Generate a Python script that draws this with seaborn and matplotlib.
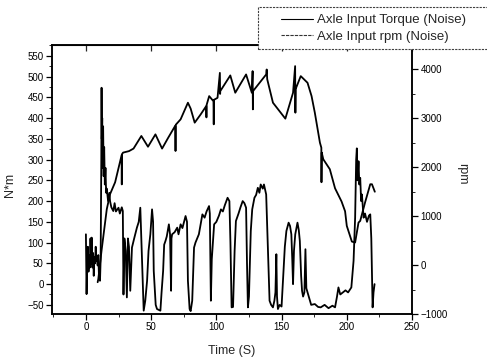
import matplotlib
matplotlib.use("Agg")
import matplotlib.pyplot as plt
import seaborn as sns
import pandas as pd
from matplotlib.lines import Line2D
from matplotlib.patches import Rectangle
from matplotlib.ticker import MultipleLocator

# ---- data ----
torque_t = [0, 0.5, 1, 1.5, 2, 2.5, 3, 3.5, 4, 4.4, 5, 5.5, 6, 6.5, 7, 7.5, 8, 8.5, 9, 9.5,
            10, 10.8, 11.3, 11.8, 12, 12.2, 12.5, 12.8, 13.2, 13.6, 14, 14.5, 15, 15.5, 16, 17,
            18, 18.5, 19.5, 21, 22, 23, 25, 26, 27.5, 28.3, 28.8, 29.5, 30.5, 31.4, 32.2, 33,
            34, 35.3, 37, 39.1, 40.5, 41.7, 43, 44.3, 45.5, 46.9, 48, 49.4, 50.7, 51.5, 52,
            53.5, 54.5, 57.1, 58, 59.2, 60, 61, 62, 63.6, 64.5, 65.3, 65.6, 66.1, 68, 70, 71,
            72.6, 74, 76.4, 77.5, 78.2, 79.5, 80.3, 81.5, 82.9, 84, 86.6, 89.3, 91, 92.5,
            94.4, 95, 95.8, 96.5, 98.3, 100, 102, 103.5, 105, 106.5, 108.6, 110, 110.8, 111.7,
            112.8, 114, 115, 117, 118.5, 120.2, 121.5, 122.8, 123.5, 124.2, 125, 126.4, 127.5,
            129.2, 130.5, 131.8, 133, 134, 135.6, 136.5, 138.2, 139.5, 140.8, 142, 143.4,
            144.5, 145.3, 146, 146.5, 147.2, 148.5, 150, 151.1, 152.5, 153.7, 155.4, 156.5,
            157.5, 158.2, 158.8, 159.5, 160.5, 162.2, 163.2, 164, 165, 165.7, 166.5, 167.5,
            168.3, 169, 170.4, 172.7, 175.5, 178, 180, 183, 186, 189, 191, 192.5, 193.6, 195,
            197, 199, 201, 203.5, 204.5, 205.2, 206.4, 207.2, 207.7, 208.3, 209, 209.6, 210.3,
            211, 211.6, 212.9, 214, 215.5, 217, 218, 218.8, 219.3, 219.8, 220.5, 221.3]
torque_nm = [120, -24, 60, 90, 30, 70, 40, 110, 50, 112, 40, 75, 20, 65, 50, 90, 55, 65, 45, 70,
             20, 8, 60, 300, 473, 350, 400, 280, 380, 260, 330, 240, 280, 220, 230, 200,
             220, 200, 185, 176, 195, 175, 184, 170, 185, 176, -25, 110, 80, -32, 110, 90,
             -16, 88, 110, 136, 150, 184, 56, -64, -40, 8, 80, 120, 180, 150, 32,
             -50, -60, -64, -20, 32, 95, 104, 115, 144, 120, -16, 110, 120, 125, 136, 120,
             144, 135, 164, 150, 8, -60, -65, -40, 88, 100, 120, 168, 160, 175,
             188, 170, -40, 60, 144, 150, 165, 180, 175, 190, 208, 200, 100, -56,
             -55, 80, 152, 170, 185, 200, 195, 184, 50, -56, -30, 128, 180,
             208, 215, 232, 220, 240, 230, 240, 216, 88, -40, -50, -56,
             -40, -20, 72, -30, -60, -50, -54, 8, 90, 128, 148, 140,
             120, 60, 0, 80, 120, 148, 130, 104, 20, -16, -30, -20,
             84, -10, -25, -50, -48, -55, -56, -50, -58, -52, -56, -30, -8, -25,
             -20, -15, -20, -8, 30, 56, 160, 300, 327, 250, 296, 240, 256,
             200, 216, 160, 170, 150, 165, 168, 110, 20, -56, -20, 0]

rpm_t = [9, 9.5, 12, 16, 18.5, 22.4, 27.4, 27.5, 27.6, 28.5, 33, 36.5, 42.5, 47.6, 53.3, 58.4,
         63, 68.5, 68.7, 68.9, 72.6, 78.2, 80.3, 83.4, 88, 92.2, 92.4, 92.6, 94.5, 97.8, 98,
         98.2, 100.9, 102.7, 102.9, 103, 110.7, 114.5, 122.8, 127.2, 127.8, 128, 128.2,
         138.2, 138.6, 139, 143.4, 152.9, 158.8, 160.4, 160.6, 160.8, 164.7, 169.9, 173,
         175.5, 179.4, 180.5, 180.6, 180.8, 182, 187, 191, 196, 198.7, 200, 203.9, 206.4,
         209, 210.3, 213, 214, 218, 219.3, 221.5]
rpm_val = [-350, -286, 300, 1143, 1450, 1694, 2250, 1650, 2265, 2300, 2330, 2382, 2640, 2420, 2673, 2382,
           2600, 2850, 2333, 2870, 2980, 3320, 3200, 2912, 3082, 3250, 3020, 3280, 3455, 3350, 2878,
           3380, 3420, 3930, 3500, 3557, 3878, 3524, 3898, 3524, 3966, 3184, 3560,
           3898, 4000, 3800, 3320, 2994, 3524, 4068, 3116, 3600, 3864, 3728, 3455,
           3116, 2504, 2400, 1694, 2300, 2163, 1960, 1570, 1300, 1100, 802, 480, 462,
           870, 904, 1177, 1279, 1653, 1653, 1500]

legend_labels = ["Axle Input Torque (Noise)", "Axle Input rpm (Noise)"]
x_label = "Time (S)"
y_left_label = "N*m"
y_right_label = "rpm"

df_t = pd.DataFrame({"t": torque_t, "v": torque_nm})
df_r = pd.DataFrame({"t": rpm_t, "v": rpm_val})

# ---- style ----
sns.set_style("ticks")
plt.rcParams["font.family"] = ["Liberation Sans", "DejaVu Sans"]

W, H = 487, 361
fig = plt.figure(figsize=(W / 100, H / 100), dpi=100)
L, R, T, B = 52, 412, 45, 314
ax = fig.add_axes([L / W, 1 - B / H, (R - L) / W, (B - T) / H])
ax2 = ax.twinx()

sns.lineplot(data=df_t, x="t", y="v", ax=ax, color="black", lw=1.3,
             estimator=None, sort=False, legend=False)
sns.lineplot(data=df_r, x="t", y="v", ax=ax2, color="black", lw=1.3,
             estimator=None, sort=False, legend=False)

ax.set_xlim(-26, 250)
ax.set_ylim(-72, 576)
ax2.set_ylim(-1000, 4500)

ax.xaxis.set_major_locator(MultipleLocator(50))
ax.xaxis.set_minor_locator(MultipleLocator(25))
ax.yaxis.set_major_locator(MultipleLocator(50))
ax.yaxis.set_minor_locator(MultipleLocator(25))
ax2.yaxis.set_major_locator(MultipleLocator(1000))
ax2.yaxis.set_minor_locator(MultipleLocator(500))

for a in (ax, ax2):
    for s in a.spines.values():
        s.set_visible(True)
        s.set_linewidth(1.1)
        s.set_color("black")

ax.tick_params(axis="both", which="major", direction="out", length=4, width=0.9,
               labelsize=7, colors="black", pad=2)
ax.tick_params(axis="both", which="minor", direction="out", length=2, width=0.7)
ax2.tick_params(axis="y", which="major", direction="out", length=4, width=0.9,
                labelsize=7, colors="black", pad=2)
ax2.tick_params(axis="y", which="minor", direction="out", length=2, width=0.7)

# top axis: inward major ticks only, no labels
topax = ax.secondary_xaxis("top")
topax.xaxis.set_major_locator(MultipleLocator(50))
topax.tick_params(axis="x", direction="in", length=4, width=0.9, labeltop=False)

ax.set_xlabel(x_label, fontsize=9)
ax.set_ylabel(y_left_label, fontsize=9)
ax2.set_ylabel(y_right_label, fontsize=9, rotation=270)
ax.xaxis.set_label_coords(0.5, -0.115)
ax.yaxis.set_label_coords(-0.10, 0.48)
ax2.yaxis.set_label_coords(1.155, 0.52)

# legend box (partially covering the top of the axes, as in the reference)
box = Rectangle((258 / W, 1 - 49 / H), (W + 5 - 258) / W, 42 / H, transform=fig.transFigure,
                facecolor="white", edgecolor="0.25", lw=0.8, linestyle=(0, (2, 1)),
                zorder=3)
fig.patches.append(box)
handles = [Line2D([], [], color="black", lw=0.8),
           Line2D([], [], color="0.2", lw=0.8, linestyle=(0, (3, 1)))]
fig.legend(handles, legend_labels, loc="upper left", bbox_to_anchor=(281 / W, 1 - 14 / H),
           frameon=False, fontsize=9.5, handlelength=2.4, handletextpad=0.35,
           labelspacing=0.35, borderpad=0, borderaxespad=0)

fig.savefig("out.png", dpi=100)
